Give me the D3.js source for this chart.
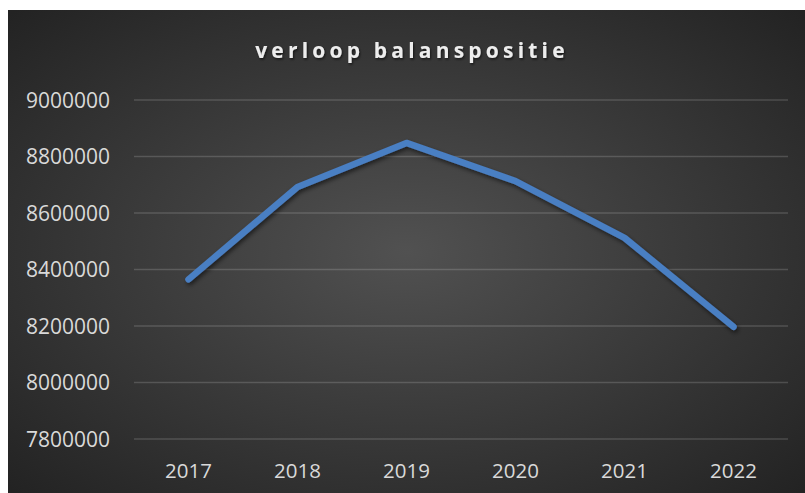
<!DOCTYPE html>
<html>
<head>
<meta charset="utf-8">
<script src="https://cdn.jsdelivr.net/npm/d3@7"></script>
<style>
  html, body { margin: 0; padding: 0; background: #fff; }
  svg { display: block; }
</style>
</head>
<body>
<div id="chart"></div>
<script>
const years = ['2017', '2018', '2019', '2020', '2021', '2022']
const balans = [8365000, 8692000, 8848000, 8713000, 8512000, 8197000]
const yTicks = [7800000, 8000000, 8200000, 8400000, 8600000, 8800000, 9000000]
const title = 'verloop balanspositie'

const width = 805
const height = 493
const frame = { left: 8, top: 10 }
const margin = { top: 100, right: 17, bottom: 54, left: 134 }

const svg = d3.select('#chart')
  .append('svg')
  .attr('width', width)
  .attr('height', height)

const defs = svg.append('defs')

// background gradient, lighter in the middle
const bg = defs.append('radialGradient')
  .attr('id', 'bg-grad')
  .attr('cx', '50%').attr('cy', '50%').attr('r', '70%')
bg.append('stop').attr('offset', '0%').attr('stop-color', '#515151')
bg.append('stop').attr('offset', '100%').attr('stop-color', '#232323')

const shadow = defs.append('filter').attr('id', 'line-shadow')
  .attr('x', '-10%').attr('y', '-10%').attr('width', '120%').attr('height', '130%')
shadow.append('feDropShadow')
  .attr('dx', 1.5).attr('dy', 2.5).attr('stdDeviation', 2)
  .attr('flood-color', '#000').attr('flood-opacity', 0.55)

const textShadow = defs.append('filter').attr('id', 'text-shadow')
textShadow.append('feDropShadow')
  .attr('dx', 1).attr('dy', 1.5).attr('stdDeviation', 1.2)
  .attr('flood-color', '#000').attr('flood-opacity', 0.6)

svg.append('rect')
  .attr('x', frame.left).attr('y', frame.top)
  .attr('width', width - frame.left).attr('height', height - frame.top)
  .attr('fill', 'url(#bg-grad)')

svg.append('text')
  .attr('x', 412)
  .attr('y', 58)
  .attr('text-anchor', 'middle')
  .attr('font-family', '"Open Sans", sans-serif')
  .attr('font-weight', 700)
  .attr('font-size', 21)
  .attr('letter-spacing', 4.2)
  .attr('fill', '#ededed')
  .attr('filter', 'url(#text-shadow)')
  .text(title)

const x = d3.scaleBand()
  .domain(years)
  .range([margin.left, width - margin.right])

const y = d3.scaleLinear()
  .domain([7800000, 9000000])
  .range([height - margin.bottom, margin.top])

// gridlines
svg.append('g')
  .selectAll('line')
  .data(yTicks)
  .join('line')
  .attr('x1', margin.left)
  .attr('x2', width - margin.right)
  .attr('y1', d => y(d))
  .attr('y2', d => y(d))
  .attr('stroke', '#ffffff')
  .attr('stroke-opacity', 0.16)
  .attr('stroke-width', 1.3)

const yAxis = svg.append('g')
  .attr('transform', `translate(${margin.left - 24},0)`)
  .call(d3.axisLeft(y).tickValues(yTicks).tickFormat(d3.format('d')).tickSize(0).tickPadding(0))
yAxis.select('.domain').remove()
yAxis.selectAll('text')
  .attr('font-family', '"Open Sans", sans-serif')
  .attr('font-size', 21)
  .attr('fill', '#d9d9d9')
  .attr('dy', '0.35em')

const xAxis = svg.append('g')
  .attr('transform', `translate(0,${height - margin.bottom})`)
  .call(d3.axisBottom(x).tickSize(0).tickPadding(0))
xAxis.select('.domain').remove()
xAxis.selectAll('text')
  .attr('font-family', '"Open Sans", sans-serif')
  .attr('font-size', 20.5)
  .attr('fill', '#d9d9d9')
  .attr('dy', 0)
  .attr('y', 39)

const line = d3.line()
  .x((d, i) => x(years[i]) + x.bandwidth() / 2)
  .y(d => y(d))

svg.append('path')
  .datum(balans)
  .attr('d', line)
  .attr('fill', 'none')
  .attr('stroke', '#4a7fc3')
  .attr('stroke-width', 6.5)
  .attr('stroke-linecap', 'round')
  .attr('stroke-linejoin', 'round')
  .attr('filter', 'url(#line-shadow)')
</script>
</body>
</html>
